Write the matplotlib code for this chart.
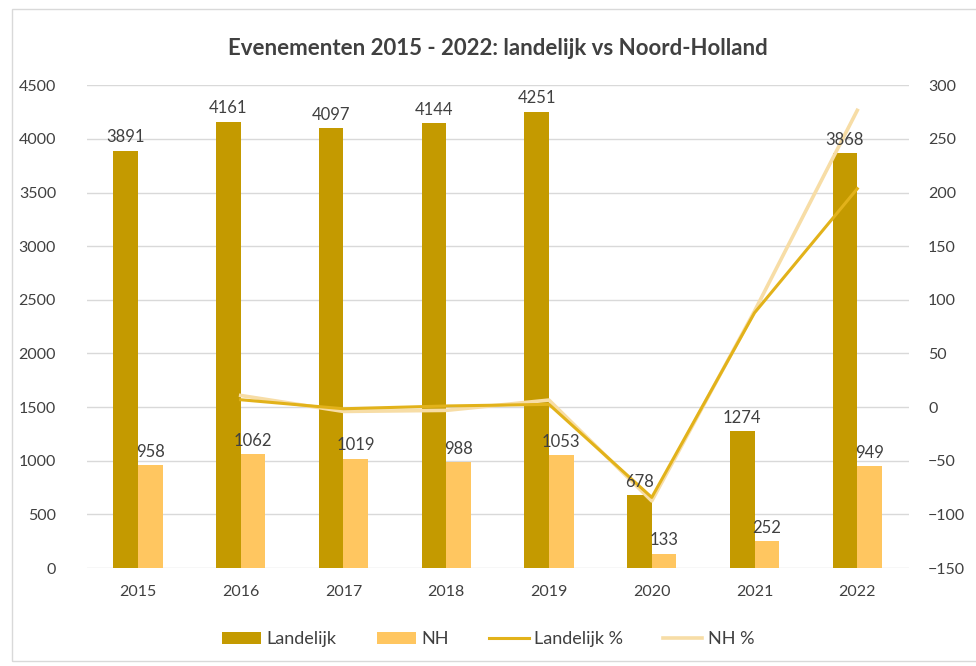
"""
plot.py
Evenementen 2015 - 2022: landelijk vs Noord-Holland (bars + % change lines).
"""

import numpy as np
import matplotlib.pyplot as plt
from matplotlib.patches import Rectangle

years = ["2015", "2016", "2017", "2018", "2019", "2020", "2021", "2022"]
landelijk = [3891, 4161, 4097, 4144, 4251, 678, 1274, 3868]
nh = [958, 1062, 1019, 988, 1053, 133, 252, 949]
# year-on-year change in %, first year has no value
landelijk_pct = [np.nan, 6.9, -1.5, 1.1, 2.6, -84.1, 87.9, 203.6]
nh_pct = [np.nan, 10.9, -4.0, -3.0, 6.6, -87.4, 89.5, 276.6]

C_LAND = "#C49A00"
C_NH = "#FFC660"
C_LAND_LINE = "#E2B21A"
C_NH_LINE = "#F7DDA6"
TXT = "#404040"

plt.rcParams["font.family"] = ["Lato", "DejaVu Sans"]


def main():
    fig = plt.figure(figsize=(9.76, 6.66), dpi=100)
    # light frame around the chart
    fig.patches.append(Rectangle((0.012, 0.008), 0.99, 0.978, transform=fig.transFigure,
                                 fill=False, edgecolor="#D9D9D9", linewidth=1))

    ax = fig.add_axes([0.0887, 0.147, 0.8423, 0.725])
    x = np.arange(len(years))
    w = 0.24

    b1 = ax.bar(x - w / 2, landelijk, w, color=C_LAND, label="Landelijk", zorder=2)
    b2 = ax.bar(x + w / 2, nh, w, color=C_NH, label="NH", zorder=2)

    ax.set_ylim(0, 4500)
    ax.set_yticks(range(0, 4501, 500))
    ax.set_xlim(-0.5, len(years) - 0.5)
    ax.set_xticks(x)
    ax.set_xticklabels(years)
    ax.grid(axis="y", color="#D9D9D9", linewidth=1, zorder=0)
    ax.set_axisbelow(True)
    ax.tick_params(length=0, labelsize=11.5, colors=TXT, pad=12)
    ax.tick_params(axis="y", pad=22)
    for s in ax.spines.values():
        s.set_visible(False)

    ax2 = ax.twinx()
    l1, = ax2.plot(x, landelijk_pct, color=C_LAND_LINE, linewidth=2.2, label="Landelijk %", zorder=4)
    l2, = ax2.plot(x, nh_pct, color=C_NH_LINE, linewidth=2.6, label="NH %", zorder=3)
    ax2.set_ylim(-150, 300)
    ax2.set_yticks(range(-150, 301, 50))
    ax2.tick_params(length=0, labelsize=11.5, colors=TXT, pad=14)
    for s in ax2.spines.values():
        s.set_visible(False)

    # data labels drawn on the twin axes so they sit above the lines
    for bars in (b1, b2):
        for b in bars:
            ax2.annotate(f"{int(b.get_height())}", (b.get_x() + b.get_width() / 2, b.get_height()),
                         xycoords=ax.transData, xytext=(0, 4), textcoords="offset points",
                         ha="center", va="bottom", fontsize=12, color=TXT, zorder=6)

    ax.set_title("Evenementen 2015 - 2022: landelijk vs Noord-Holland",
                 fontsize=16, fontweight="bold", color=TXT, pad=22)

    fig.legend(handles=[b1, b2, l1, l2], loc="center", bbox_to_anchor=(0.5, 0.04),
               ncol=4, frameon=False, fontsize=13, labelcolor=TXT,
               handlelength=2.2, handletextpad=0.3, columnspacing=2.2)

    fig.savefig("out.png", dpi=100)
    plt.close(fig)


if __name__ == "__main__":
    main()
